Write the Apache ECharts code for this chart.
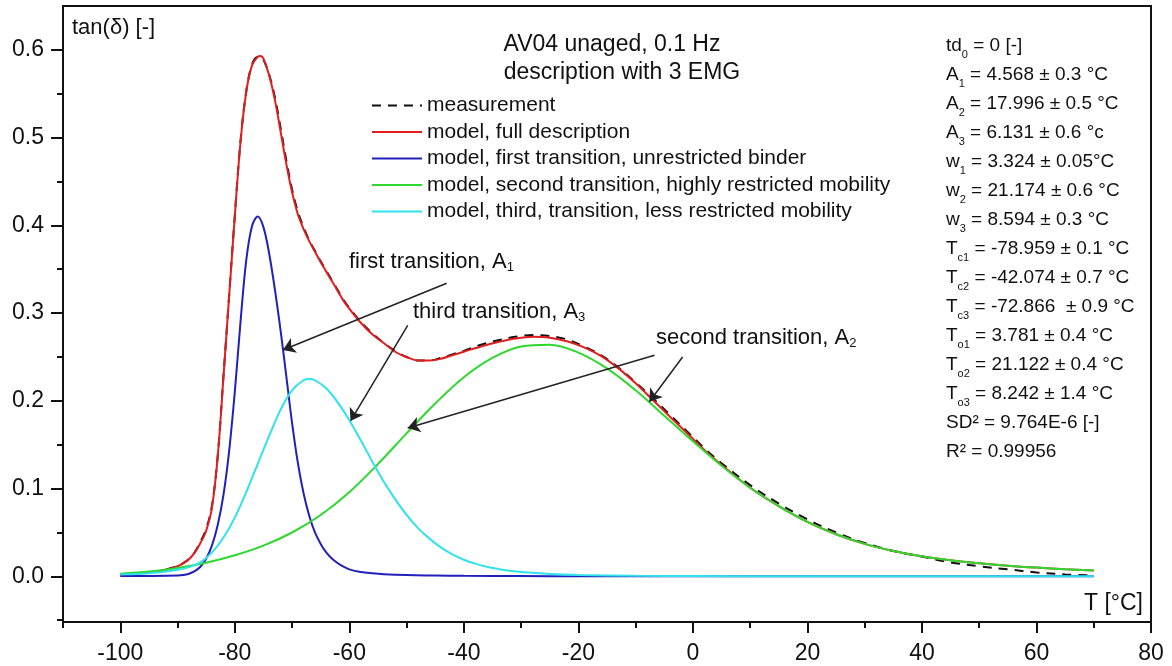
<!DOCTYPE html>
<html>
<head>
<meta charset="utf-8">
<script src="https://cdn.jsdelivr.net/npm/echarts@6/dist/echarts.min.js"></script>
<style>
html,body{margin:0;padding:0;background:#fff;}
#chart{width:1172px;height:666px;}
</style>
</head>
<body>
<div id="chart"></div>
<script>
var FONT = '"Liberation Sans", Arial, sans-serif';

// x axis ticks (T [°C])
var xMajor = [-100, -80, -60, -40, -20, 0, 20, 40, 60, 80];
var xMinor = [-110, -90, -70, -50, -30, -10, 10, 30, 50, 70];
// y axis ticks (tan delta)
var yMajor = [0, 0.1, 0.2, 0.3, 0.4, 0.5, 0.6];
var yMinor = [-0.05, 0.05, 0.15, 0.25, 0.35, 0.45, 0.55];

// measurement (black dashed)
var measT = [-92,-90,-89,-88,-87,-86,-85,-84,-83,-82,-81,-80,-79,-78,-77,-76,-75.5,-75,-74,-73,-72,-71,-70,-69,-68,-67,-66,-65,-64,-63,-62,-61,-60,-58,-56,-54,-52,-50,-48,-46,-44,-42,-40,-37,-34,-31,-28,-25,-22,-19,-16,-13,-10,-7,-4,-1,2,5,10,15,20,25,30,35,40,45,50,55,60,65,70];
var measV = [0.0078,0.0118,0.015,0.0198,0.0275,0.0395,0.054,0.08,0.136,0.226,0.319,0.411,0.496,0.553,0.583,0.592,0.592,0.589,0.572,0.546,0.511,0.474,0.441,0.416,0.398,0.383,0.371,0.359,0.348,0.337,0.326,0.315,0.306,0.29,0.277,0.266,0.257,0.25,0.246,0.246,0.249,0.253,0.257,0.264,0.269,0.273,0.275,0.274,0.27,0.262,0.252,0.238,0.221,0.203,0.184,0.165,0.146,0.129,0.104,0.083,0.065,0.05,0.038,0.029,0.0225,0.016,0.0115,0.008,0.0045,0.0022,0.001];

// model, full description (red)
var fullT = [-100,-98,-96,-94,-92,-90,-89,-88,-87,-86,-85,-84,-83,-82,-81,-80,-79,-78,-77,-76,-75.5,-75,-74,-73,-72,-71,-70,-69,-68,-67,-66,-65,-64,-63,-62,-61,-60,-58,-56,-54,-52,-50,-48,-46,-44,-42,-40,-37,-34,-31,-28,-25,-22,-19,-16,-13,-10,-7,-4,-1,2,5,10,15,20,25,30,35,40,45,50,55,60,65,70];
var fullV = [0.002,0.0028,0.0038,0.0052,0.0075,0.0115,0.0148,0.0195,0.027,0.038,0.052,0.078,0.135,0.225,0.318,0.41,0.495,0.552,0.582,0.592,0.593,0.59,0.571,0.543,0.507,0.47,0.438,0.413,0.396,0.382,0.37,0.358,0.347,0.336,0.325,0.314,0.305,0.289,0.276,0.266,0.256,0.25,0.246,0.246,0.248,0.252,0.256,0.262,0.267,0.271,0.273,0.272,0.268,0.261,0.251,0.237,0.22,0.201,0.182,0.163,0.144,0.127,0.101,0.08,0.062,0.048,0.037,0.029,0.023,0.0185,0.015,0.0122,0.01,0.0082,0.0068];

// model, first transition (blue)
var firstT = [-100,-95,-90,-89,-88,-87,-86,-85,-84,-83,-82,-81,-80,-79,-78,-77,-76,-75,-74,-73,-72,-71,-70,-69,-68,-67,-66,-65,-64,-63,-62,-61,-60,-58,-56,-54,-50,-45,-40,-30,-20,0,20,40,70];
var firstV = [0.0003,0.0005,0.001,0.0015,0.003,0.006,0.011,0.02,0.035,0.058,0.092,0.142,0.21,0.29,0.36,0.399,0.41,0.398,0.368,0.327,0.28,0.228,0.175,0.13,0.095,0.069,0.05,0.037,0.027,0.02,0.015,0.011,0.008,0.005,0.0035,0.0025,0.0015,0.001,0.0006,0.0003,0.0001,0,0,0,0];

// model, second transition (green)
var secondT = [-100,-95,-90,-85,-80,-75,-70,-65,-60,-55,-50,-45,-40,-35,-30,-25,-20,-15,-10,-5,0,5,10,15,20,25,30,35,40,45,50,55,60,65,70];
var secondV = [0.003,0.0055,0.0095,0.0155,0.024,0.035,0.05,0.07,0.096,0.128,0.163,0.197,0.227,0.249,0.262,0.264,0.255,0.237,0.212,0.183,0.154,0.126,0.101,0.08,0.062,0.048,0.037,0.029,0.023,0.0185,0.015,0.0122,0.01,0.0082,0.0068];

// model, third transition (cyan)
var thirdT = [-100,-98,-96,-94,-92,-90,-88,-86,-84,-82,-80,-78,-76,-74,-72,-70,-68,-67,-66,-64,-62,-60,-58,-56,-54,-52,-50,-48,-46,-44,-42,-40,-38,-36,-34,-32,-30,-25,-20,-10,0,20,40,70];
var thirdV = [0.002,0.0025,0.003,0.004,0.0055,0.0075,0.0105,0.016,0.027,0.044,0.067,0.096,0.128,0.16,0.19,0.212,0.2235,0.225,0.2235,0.214,0.198,0.178,0.155,0.131,0.108,0.088,0.07,0.055,0.043,0.033,0.025,0.019,0.0145,0.011,0.0085,0.0065,0.005,0.0028,0.0016,0.0006,0.0003,0.0001,0,0];

// arrows of the annotations, [T, tan delta] from -> to
var arrowFirst = [[-43.0, 0.334], [-71.6, 0.258]];
var arrowThird = [[-49.8, 0.286], [-59.8, 0.177]];
var arrowSecondA = [[-1.8, 0.25], [-7.6, 0.199]];
var arrowSecondB = [[-6.7, 0.252], [-49.8, 0.169]];

var names = ['measurement', 'model, full description', 'model, first transition, unrestricted binder',
             'model, second transition, highly restricted mobility', 'model, third, transition, less restricted mobility'];

function pairs(t, v) {
    var out = [];
    for (var i = 0; i < t.length; i++) out.push([t[i], v[i]]);
    return out;
}
function arrow(a) {
    return [{coord: a[0]}, {coord: a[1]}];
}
function curve(name, t, v, color, z) {
    return {
        name: name, type: 'line', data: pairs(t, v),
        symbol: 'none', smooth: 0.35, z: z,
        lineStyle: {color: color, width: 2}, itemStyle: {color: color}
    };
}

var chart = echarts.init(document.getElementById('chart'));

var measurement = curve(names[0], measT, measV, '#111', 1);
measurement.lineStyle.type = [9, 7];
measurement.markLine = {
    silent: true, symbol: ['none', 'arrow'], symbolSize: 12,
    label: {show: false},
    lineStyle: {color: '#222', width: 1.5, type: 'solid'},
    emphasis: {disabled: true},
    data: [arrow(arrowFirst), arrow(arrowThird), arrow(arrowSecondA), arrow(arrowSecondB)]
};

var subRich = {s: {fontFamily: FONT, fontSize: 13, lineHeight: 14, verticalAlign: 'bottom', fill: '#111'}};

var option = {
    animation: false,
    backgroundColor: '#fff',
    grid: {
        left: 63, right: 21, top: 6, bottom: 44,
        show: true, borderColor: '#111', borderWidth: 2
    },
    legend: {
        orient: 'vertical',
        left: 366, top: 90,
        itemWidth: 50, itemHeight: 14, itemGap: 5.5,
        selectedMode: false,
        itemStyle: {opacity: 0},
        textStyle: {fontFamily: FONT, fontSize: 21, lineHeight: 21, color: '#111'},
        data: names
    },
    xAxis: [{
        type: 'value', min: -110, max: 80, position: 'bottom',
        axisLine: {onZero: false, lineStyle: {color: '#111', width: 2}},
        axisTick: {customValues: xMajor, length: 11, lineStyle: {color: '#111', width: 2}},
        axisLabel: {customValues: xMajor, margin: 20, fontFamily: FONT, fontSize: 23, color: '#111'},
        splitLine: {show: false}
    }, {
        type: 'value', min: -110, max: 80, position: 'bottom',
        axisLine: {show: false, onZero: false},
        axisTick: {customValues: xMinor, length: 6, lineStyle: {color: '#111', width: 2}},
        axisLabel: {show: false},
        splitLine: {show: false}
    }],
    yAxis: [{
        type: 'value', min: -0.052, max: 0.65, position: 'left',
        axisLine: {show: true, onZero: false, lineStyle: {color: '#111', width: 2}},
        axisTick: {show: true, customValues: yMajor, length: 12, lineStyle: {color: '#111', width: 2}},
        axisLabel: {customValues: yMajor, margin: 19, fontFamily: FONT, fontSize: 23, color: '#111',
            formatter: function (v) { return v.toFixed(1); }},
        splitLine: {show: false}
    }, {
        type: 'value', min: -0.052, max: 0.65, position: 'left',
        axisLine: {show: false, onZero: false},
        axisTick: {show: true, customValues: yMinor, length: 6, lineStyle: {color: '#111', width: 2}},
        axisLabel: {show: false},
        splitLine: {show: false}
    }],
    series: [
        measurement,
        curve(names[1], fullT, fullV, '#e01e1e', 2),
        curve(names[2], firstT, firstV, '#2020bb', 3),
        curve(names[3], secondT, secondV, '#2ed82e', 4),
        curve(names[4], thirdT, thirdV, '#30e2ec', 5)
    ],
    graphic: [
        {type: 'text', x: 72, y: 28, style: {text: 'tan(δ) [-]', font: '22px ' + FONT, fill: '#111', verticalAlign: 'middle'}},
        {type: 'text', x: 1143, y: 604, style: {text: 'T [°C]', font: '23px ' + FONT, fill: '#111', align: 'right', verticalAlign: 'middle'}},
        {type: 'text', x: 612, y: 45, style: {text: 'AV04 unaged, 0.1 Hz', font: '23px ' + FONT, fill: '#111', align: 'center', verticalAlign: 'middle'}},
        {type: 'text', x: 622, y: 73, style: {text: 'description with 3 EMG', font: '23px ' + FONT, fill: '#111', align: 'center', verticalAlign: 'middle'}},
        {type: 'text', x: 349, y: 262, style: {
            text: 'first transition, A{s|1}', fontFamily: FONT, fontSize: 22, lineHeight: 24, fill: '#111', verticalAlign: 'middle', rich: subRich}},
        {type: 'text', x: 413, y: 312, style: {
            text: 'third transition, A{s|3}', fontFamily: FONT, fontSize: 22, lineHeight: 24, fill: '#111', verticalAlign: 'middle', rich: subRich}},
        {type: 'text', x: 656, y: 338, style: {
            text: 'second transition, A{s|2}', fontFamily: FONT, fontSize: 22, lineHeight: 24, fill: '#111', verticalAlign: 'middle', rich: subRich}},
        {type: 'text', x: 946, y: 31, style: {
            text: [
                'td{s|0} = 0 [-]',
                'A{s|1} = 4.568 ± 0.3 °C',
                'A{s|2} = 17.996 ± 0.5 °C',
                'A{s|3} = 6.131 ± 0.6 °c',
                'w{s|1} = 3.324 ± 0.05°C',
                'w{s|2} = 21.174 ± 0.6 °C',
                'w{s|3} = 8.594 ± 0.3 °C',
                'T{s|c1} = -78.959 ± 0.1 °C',
                'T{s|c2} = -42.074 ± 0.7 °C',
                'T{s|c3} = -72.866  ± 0.9 °C',
                'T{s|o1} = 3.781 ± 0.4 °C',
                'T{s|o2} = 21.122 ± 0.4 °C',
                'T{s|o3} = 8.242 ± 1.4 °C',
                'SD² = 9.764E-6 [-]',
                'R² = 0.99956'
            ].join('\n'),
            fontFamily: FONT, fontSize: 19, lineHeight: 29, fill: '#111',
            rich: {s: {fontFamily: FONT, fontSize: 11, lineHeight: 14, verticalAlign: 'bottom', fill: '#111'}}}}
    ]
};
chart.setOption(option);
</script>
</body>
</html>
